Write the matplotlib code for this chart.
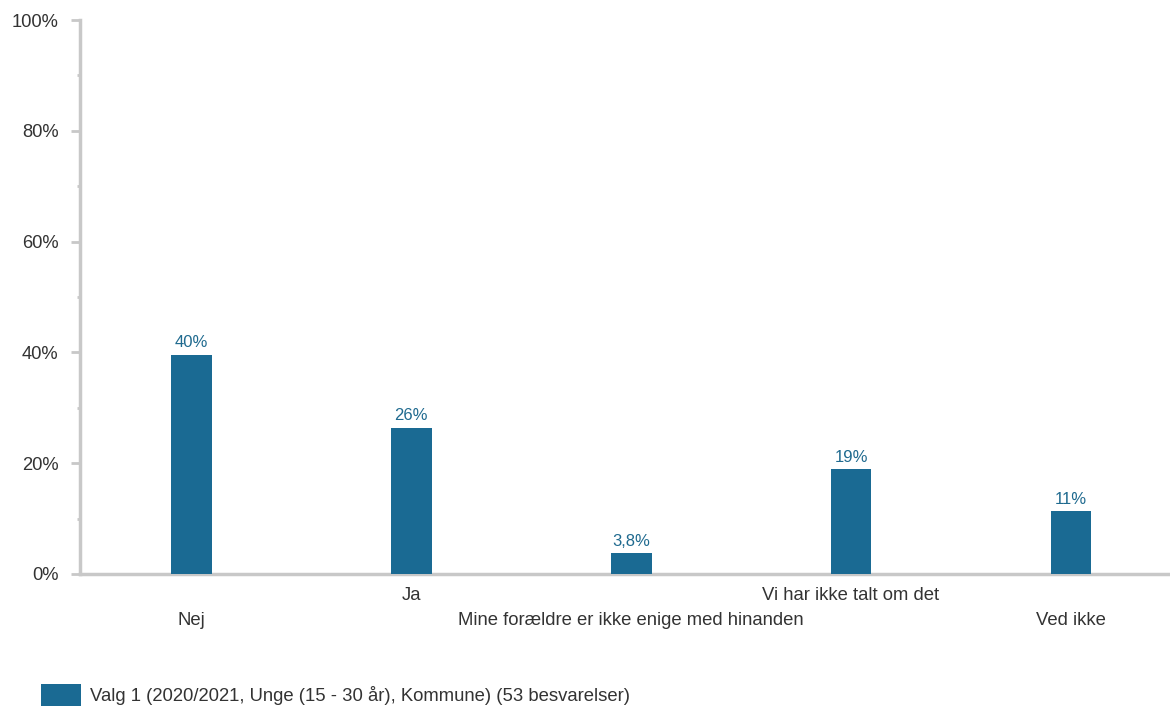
import matplotlib.pyplot as plt
from matplotlib.transforms import blended_transform_factory

plt.rcParams['font.family'] = ['Liberation Sans', 'DejaVu Sans']

categories = ['Nej', 'Ja', 'Mine forældre er ikke enige med hinanden',
              'Vi har ikke talt om det', 'Ved ikke']
values = [39.6, 26.4, 3.8, 18.9, 11.3]
value_labels = ['40%', '26%', '3,8%', '19%', '11%']
label_row = [1, 0, 1, 0, 1]  # 0 = upper row, 1 = lower row
series_name = 'Valg 1 (2020/2021, Unge (15 - 30 år), Kommune) (53 besvarelser)'

bar_color = '#1a6a93'
grey = '#c8c8c8'
text_color = '#333333'

fig = plt.figure(figsize=(11.7, 7.07), dpi=100)
ax = fig.add_axes([80 / 1170, 1 - 574 / 707, 1090 / 1170, 554 / 707])

x = list(range(len(categories)))
bars = ax.bar(x, values, width=0.186, color=bar_color, label=series_name, zorder=3)

for xi, v, lab in zip(x, values, value_labels):
    ax.text(xi, v + 0.8, lab, ha='center', va='bottom', fontsize=12, color='#1f6a8f')

ax.set_xlim(-0.505, 4.45)
ax.set_ylim(0, 100)
ax.set_yticks(range(0, 101, 20))
ax.set_yticks(range(10, 100, 20), minor=True)
ax.set_yticklabels([f'{t}%' for t in range(0, 101, 20)], fontsize=13.2, color=text_color)
ax.tick_params(axis='y', which='major', length=6.5, width=2, color=grey, pad=9)
ax.tick_params(axis='y', which='minor', length=2.5, width=2, color=grey)
ax.set_xticks([])

for s in ['top', 'right']:
    ax.spines[s].set_visible(False)
for s in ['left', 'bottom']:
    ax.spines[s].set_color(grey)
    ax.spines[s].set_linewidth(2.5)

trans = blended_transform_factory(ax.transData, ax.transAxes)
for xi, cat, row in zip(x, categories, label_row):
    ax.text(xi, -0.024 - row * 0.045, cat, transform=trans, ha='center', va='top',
            fontsize=13.3, color=text_color)

fig.legend(handles=[bars], labels=[series_name], loc='lower left',
           bbox_to_anchor=(24 / 1170, -0.022), frameon=False, fontsize=13.3,
           handlelength=2.2, handleheight=1.45, handletextpad=0.45, labelcolor=text_color)

fig.savefig('out.png', dpi=100)
